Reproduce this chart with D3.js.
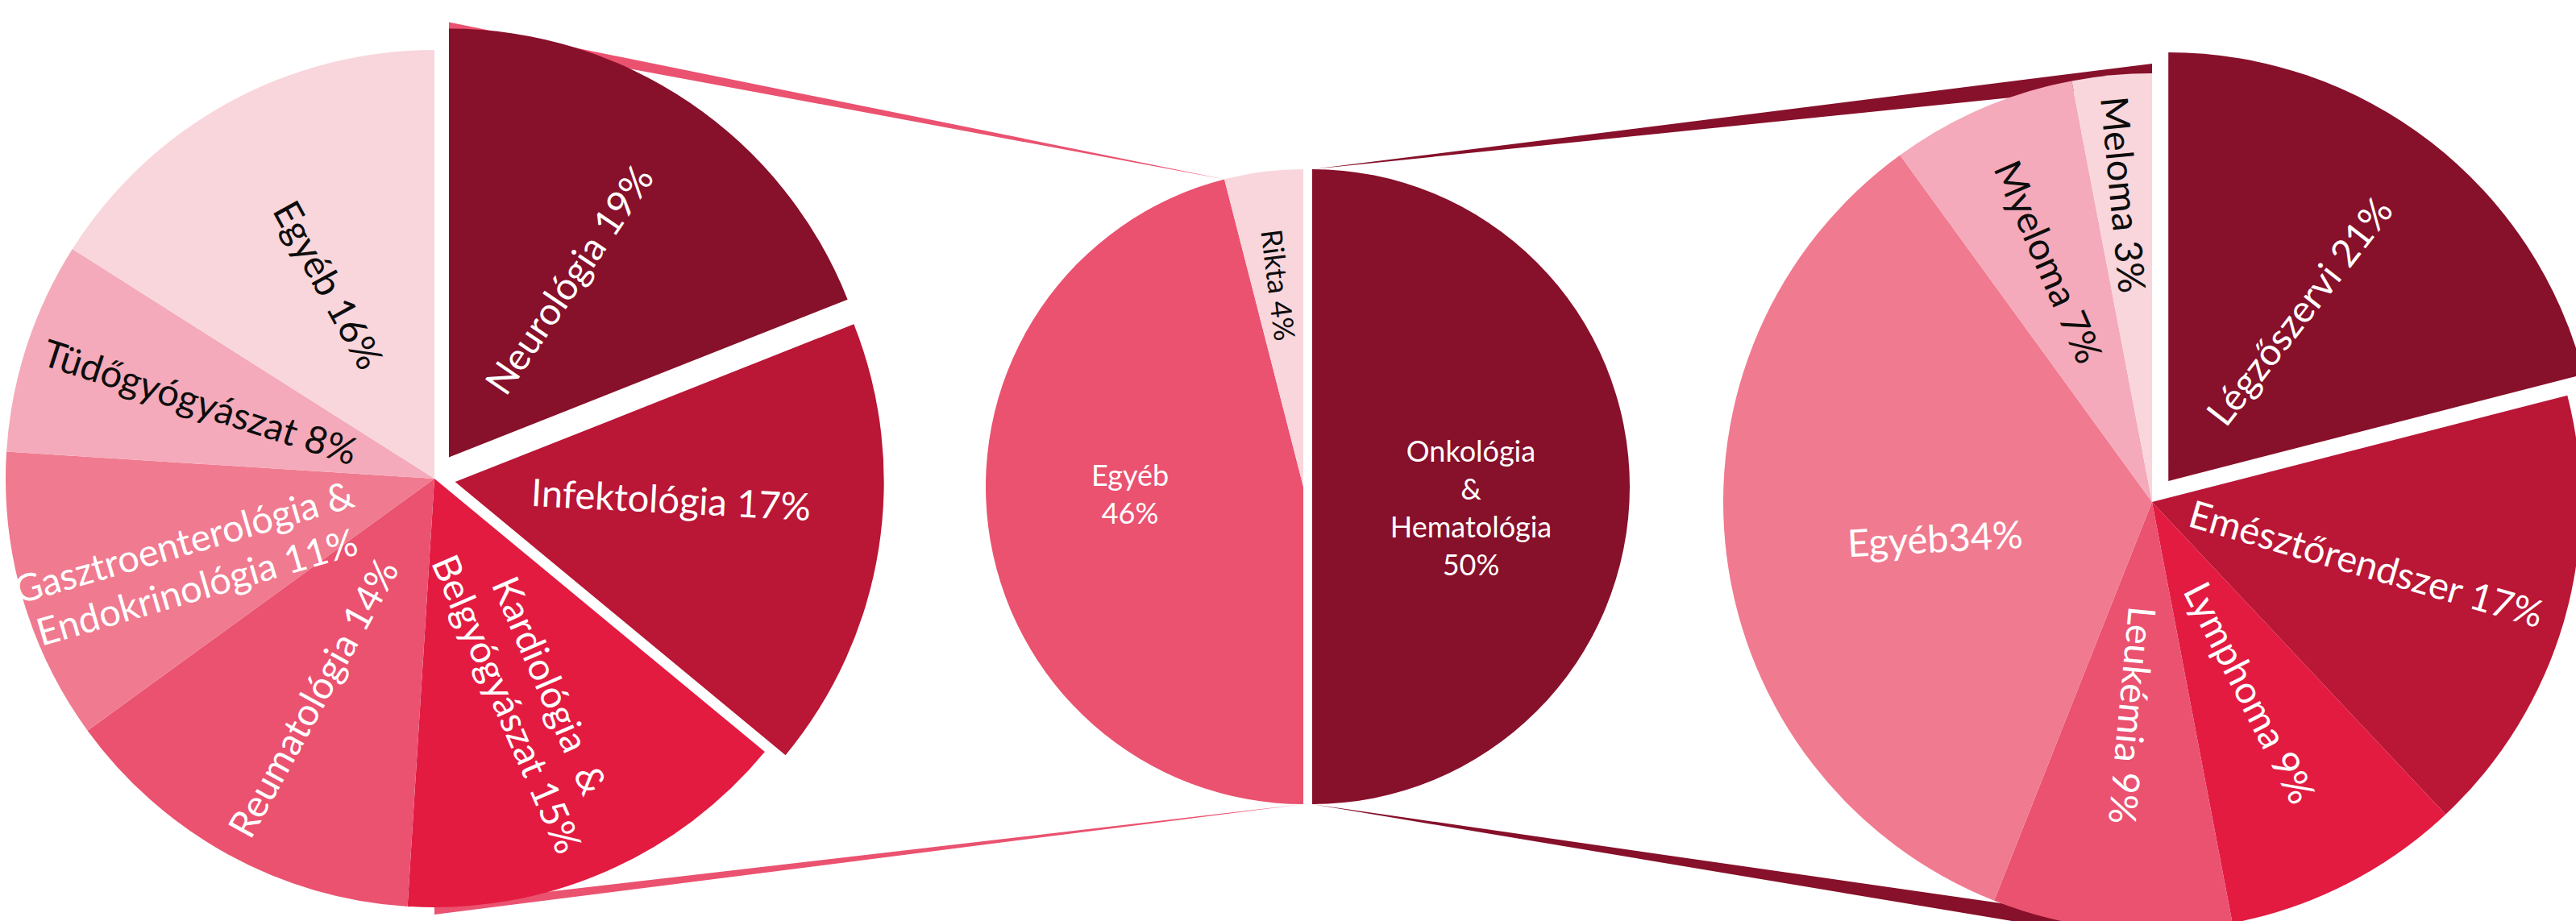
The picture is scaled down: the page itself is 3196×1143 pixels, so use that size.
<!DOCTYPE html>
<html>
<head>
<meta charset="utf-8">
<script src="https://cdn.jsdelivr.net/npm/d3@7"></script>
<style>
  body { margin: 0; background: #fff; }
  svg { display: block; }
</style>
</head>
<body>
<svg id="chart" width="3196" height="1143"></svg>
<script>
// Left pie - breakdown of the "Egyéb" slice of the middle pie
const leftCategories = ["Neurológia", "Infektológia", "Kardiológia & Belgyógyászat", "Reumatológia",
    "Gasztroenterológia & Endokrinológia", "Tüdőgyógyászat", "Egyéb"];
const leftValues = [19, 17, 15, 14, 11, 8, 16];
const leftLabels = ["Neurológia #%", "Infektológia #%", "Kardiológia  &\nBelgyógyászat #%", "Reumatológia #%",
    "Gasztroenterológia &\nEndokrinológia #%", "Tüdőgyógyászat #%", "Egyéb #%"];

// Middle pie
const midCategories = ["Onkológia & Hematológia", "Egyéb", "Rikta"];
const midValues = [50, 46, 4];
const midLabels = ["Onkológia\n&\nHematológia\n#%", "Egyéb\n#%", "Rikta #%"];

// Right pie - breakdown of "Onkológia & Hematológia"
const rightCategories = ["Légzőszervi", "Emésztőrendszer", "Lymphoma", "Leukémia", "Egyéb", "Myeloma", "Meloma"];
const rightValues = [21, 17, 9, 9, 34, 7, 3];
const rightLabels = ["Légzőszervi #%", "Emésztőrendszer #%", "Lymphoma #%", "Leukémia #%", "Egyéb#%",
    "Myeloma #%", "Meloma #%"];

const colors = {
    maroon: "#87102A",
    crimson: "#BA1636",
    red: "#E31B41",
    rose: "#EA5270",
    pink: "#F07A8F",
    light: "#F4AABA",
    pale: "#F8D6DC",
    white: "#ffffff",
    dark: "#0d0d0d"
};
const shades = [colors.maroon, colors.crimson, colors.red, colors.rose, colors.pink, colors.light, colors.pale];

const svg = d3.select("#chart");
svg.append("rect").attr("width", 3196).attr("height", 1143).attr("fill", "#fff");

// layout of the three pies (style only, no data)
const pies = {
    left: {
        cx: 539, cy: 594, r: 532,
        fill: shades,
        explode: [32, 26, 0, 0, 0, 0, 0],
        labelR: [0.50, 0.51, 0.55, 0.585, 0.62, 0.575, 0.515],
        nudge: [[0, 0], [0, -20], [0, 0], [0, 0], [14, 15], [0, 0], [0, 0]],
        rot: [null, 3, null, null, null, null, null],
        text: [1, 1, 1, 1, 1, 0, 0],
        size: 47, lh: 58
    },
    mid: {
        cx: 1617, cy: 604, r: 394,
        fill: [colors.maroon, colors.rose, colors.pale],
        explode: [11, 0, 0],
        labelR: [0.5, 0.55, 0.64],
        nudge: [[0, 27], [0, -17], [0, 0]],
        rot: [0, 0, null],
        text: [1, 1, 0],
        size: 36, lh: 47
    },
    right: {
        cx: 2670, cy: 623, r: 532,
        fill: shades,
        explode: [33, 0, 0, 0, 0, 0, 0],
        labelR: [0.50, 0.52, 0.50, 0.50, 0.51, 0.61, 0.72],
        nudge: [[0, 0], [0, 0], [0, 0], [0, 0], [0, 12], [0, 0], [0, 0]],
        rot: [null, null, null, null, -3, null, null],
        text: [1, 1, 1, 1, 1, 0, 0],
        size: 47, lh: 58
    }
};

const pieGen = d3.pie().sort(null).value(d => d.value);

function buildArcs(categories, values, labels) {
    return pieGen(categories.map((c, i) => ({ name: c, value: values[i], label: labels[i] })));
}

function pointAt(p, angle, radius, dx = 0, dy = 0) {
    return [p.cx + dx + radius * Math.sin(angle), p.cy + dy - radius * Math.cos(angle)];
}

function explodeOffset(p, d, i) {
    const mid = (d.startAngle + d.endAngle) / 2;
    const e = p.explode[i];
    return [e * Math.sin(mid), -e * Math.cos(mid)];
}

const leftArcs = buildArcs(leftCategories, leftValues, leftLabels);
const midArcs = buildArcs(midCategories, midValues, midLabels);
const rightArcs = buildArcs(rightCategories, rightValues, rightLabels);

// Connector wedges (drawn first so the pies cover their ends)
function connector(apex, base, halfWidth, fill) {
    const pts = [apex, [base[0], base[1] - halfWidth], [base[0], base[1] + halfWidth]];
    svg.append("path")
        .attr("d", d3.line()(pts) + "Z")
        .attr("fill", fill);
}

const midEgyeb = midArcs[1];
const midOnko = midArcs[0];
const onkoOff = explodeOffset(pies.mid, midOnko, 0);
const neuroOff = explodeOffset(pies.left, leftArcs[0], 0);

connector(pointAt(pies.mid, midEgyeb.endAngle, pies.mid.r),
    pointAt(pies.left, 0, pies.left.r, neuroOff[0], neuroOff[1]), 8, colors.rose);
connector(pointAt(pies.mid, midEgyeb.startAngle, pies.mid.r),
    pointAt(pies.left, Math.PI, pies.left.r + 3), 6, colors.rose);
connector(pointAt(pies.mid, midOnko.startAngle, pies.mid.r, onkoOff[0], onkoOff[1]),
    pointAt(pies.right, 0, pies.right.r), 12, colors.maroon);
connector(pointAt(pies.mid, midOnko.endAngle, pies.mid.r, onkoOff[0], onkoOff[1]),
    pointAt(pies.right, Math.PI, pies.right.r + 5), 12, colors.maroon);

function drawPie(p, arcs) {
    const arc = d3.arc().innerRadius(0).outerRadius(p.r);
    const g = svg.append("g").attr("transform", `translate(${p.cx},${p.cy})`);

    g.selectAll("path.slice")
        .data(arcs)
        .enter().append("path")
        .attr("class", "slice")
        .attr("transform", (d, i) => {
            const o = explodeOffset(p, d, i);
            return `translate(${o[0]},${o[1]})`;
        })
        .attr("d", arc)
        .attr("fill", (d, i) => p.fill[i]);

    arcs.forEach((d, i) => {
        const mid = (d.startAngle + d.endAngle) / 2;
        const o = explodeOffset(p, d, i);
        const rr = p.r * p.labelR[i];
        const x = o[0] + rr * Math.sin(mid) + p.nudge[i][0];
        const y = o[1] - rr * Math.cos(mid) + p.nudge[i][1];
        let rot = p.rot[i];
        if (rot === null) {
            rot = mid * 180 / Math.PI - 90;
            if (rot > 100) rot -= 180;
        }
        const lines = d.data.label.replace("#", d.data.value).split("\n");
        const t = g.append("text")
            .attr("transform", `translate(${x},${y}) rotate(${rot})`)
            .attr("text-anchor", "middle")
            .style("font-family", "Lato, 'Open Sans', sans-serif")
            .style("font-size", p.size + "px")
            .style("white-space", "pre")
            .style("fill", p.text[i] ? colors.white : colors.dark);
        lines.forEach((line, k) => {
            t.append("tspan")
                .attr("x", 0)
                .attr("y", (k - (lines.length - 1) / 2) * p.lh)
                .attr("dy", "0.35em")
                .text(line);
        });
    });
}

drawPie(pies.left, leftArcs);
drawPie(pies.mid, midArcs);
drawPie(pies.right, rightArcs);
</script>
</body>
</html>
